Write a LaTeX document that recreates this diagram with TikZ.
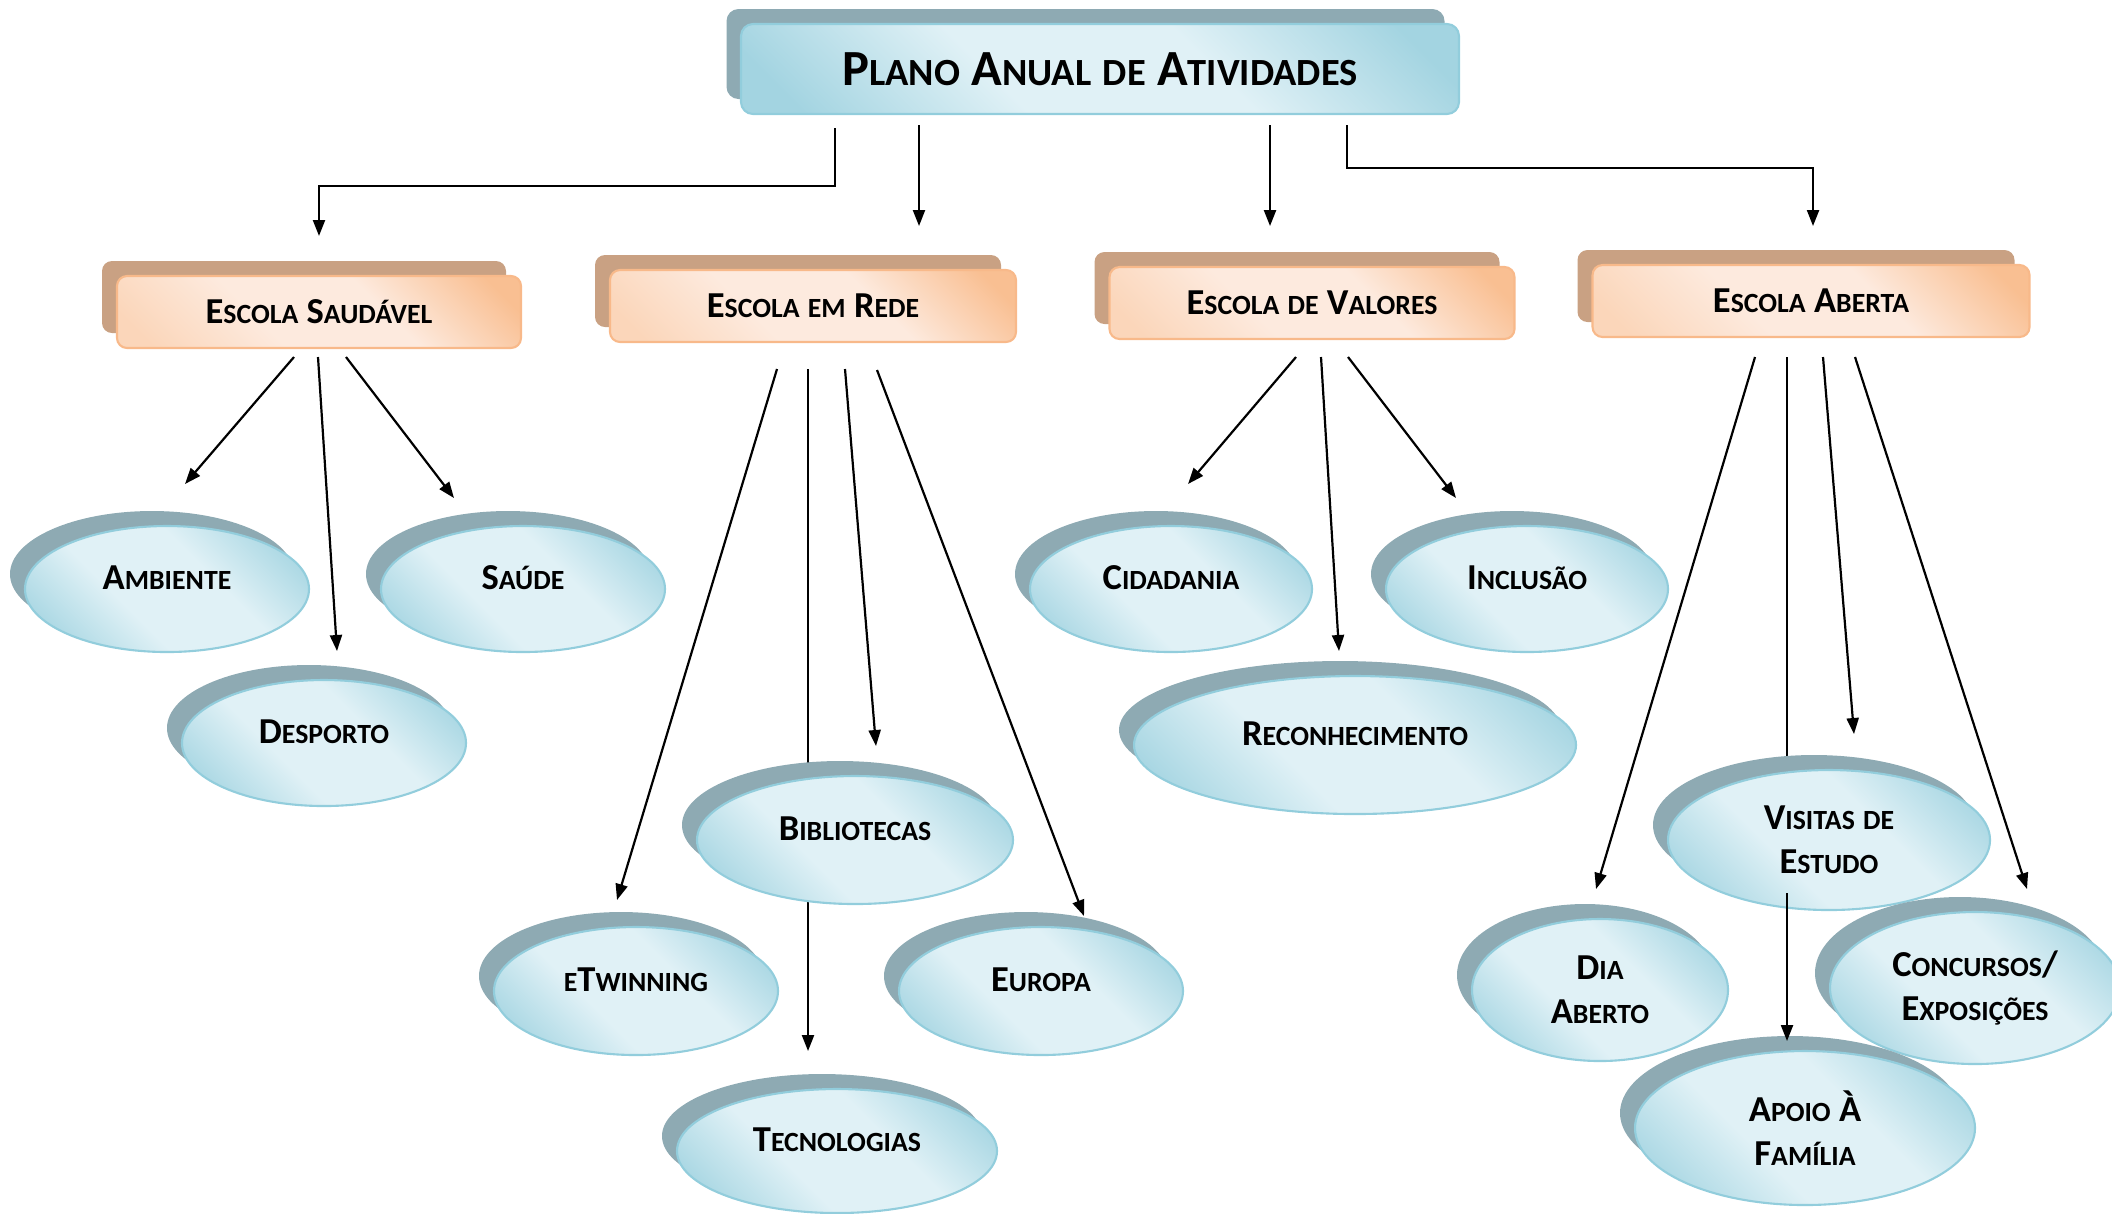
\documentclass[tikz,border=0pt]{standalone}
\usepackage{fontspec}
\setmainfont{Carlito}
\usetikzlibrary{shapes.geometric,shadows,arrows.meta}
\definecolor{ebd}{HTML}{92CDDC}
\definecolor{edark}{HTML}{A3D4E1}
\definecolor{elight}{HTML}{E0F1F6}
\definecolor{eshadow}{HTML}{8EAAB3}
\definecolor{obd}{HTML}{F8B98A}
\definecolor{odark}{HTML}{F9BF92}
\definecolor{omid}{HTML}{FBD6BA}
\definecolor{olight}{HTML}{FDEADE}
\definecolor{oshadow}{HTML}{C9A183}
\pgfdeclareverticalshading{bluegrad}{100bp}{color(0bp)=(edark); color(20bp)=(edark); color(40bp)=(elight); color(60bp)=(elight); color(80bp)=(edark); color(100bp)=(edark)}
\pgfdeclareverticalshading{orangegrad}{100bp}{color(0bp)=(omid); color(20bp)=(omid); color(40bp)=(olight); color(60bp)=(olight); color(80bp)=(odark); color(100bp)=(odark)}
\newcommand\lc[1]{\scalebox{0.76}{#1}}
\tikzset{
  blueshade/.style={shading=bluegrad, shading angle=-45},
  orangeshade/.style={shading=orangegrad, shading angle=-45},
  ell/.style={ellipse, draw=ebd, line width=0.6pt, blueshade, inner sep=0pt,
    general shadow={shadow xshift=-1.5mm, shadow yshift=1.5mm, fill=eshadow},
    font=\fontsize{10.4}{12.6}\selectfont\bfseries, align=center},
  one/.style={text height=2.3mm, text depth=2.2mm},
  catbox/.style={rectangle, rounded corners=1mm, draw=obd, line width=0.6pt, orangeshade,
    general shadow={shadow xshift=-1.5mm, shadow yshift=1.5mm, fill=oshadow},
    minimum height=7.2mm, inner sep=0pt, text height=2.3mm, text depth=0pt,
    font=\fontsize{10.4}{12.6}\selectfont\bfseries},
  titlebox/.style={rectangle, rounded corners=1.2mm, draw=ebd, line width=0.6pt, blueshade,
    general shadow={shadow xshift=-1.45mm, shadow yshift=1.5mm, fill=eshadow},
    minimum width=71.8mm, minimum height=9mm, inner sep=0pt, text height=3.2mm, text depth=0pt,
    font=\fontsize{14.4}{17}\selectfont\bfseries},
  arr/.style={-{Triangle[length=1.6mm,width=1.2mm]}, line width=0.22mm, black},
  ln/.style={line width=0.22mm, black}
}
\begin{document}
\begin{tikzpicture}[x=0.1mm,y=-0.1mm]
\path[use as bounding box] (0,0) rectangle (2112,1213);
% named end points
\coordinate (t1a) at (835,128); \coordinate (t1b) at (835,186); \coordinate (t1c) at (319,186); \coordinate (t1d) at (319,236);
\coordinate (t2a) at (919,125); \coordinate (t2b) at (919,226);
\coordinate (t3a) at (1270,125); \coordinate (t3b) at (1270,226);
\coordinate (t4a) at (1347,125); \coordinate (t4b) at (1347,168); \coordinate (t4c) at (1813,168); \coordinate (t4d) at (1813,226);
\coordinate (s1a) at (294,357); \coordinate (s1b) at (185,484);
\coordinate (s2a) at (318,357); \coordinate (s2b) at (337,651);
\coordinate (s3a) at (346,357); \coordinate (s3b) at (454,498);
\coordinate (r1a) at (777,369); \coordinate (r1b) at (617,900);
\coordinate (r2a) at (808,369); \coordinate (r2b) at (808,1051);
\coordinate (r3a) at (845,369); \coordinate (r3b) at (876,746);
\coordinate (r4a) at (877,370); \coordinate (r4b) at (1084,916);
\coordinate (v1a) at (1296,357); \coordinate (v1b) at (1188,484);
\coordinate (v2a) at (1321,357); \coordinate (v2b) at (1339,651);
\coordinate (v3a) at (1348,357); \coordinate (v3b) at (1456,498);
\coordinate (a1a) at (1755,357); \coordinate (a1b) at (1596,889);
\coordinate (a2a) at (1787,357); \coordinate (a2b) at (1787,850);
\coordinate (a2c) at (1787,893); \coordinate (a2d) at (1787,1041);
\coordinate (a3a) at (1823,357); \coordinate (a3b) at (1854,734);
\coordinate (a4a) at (1855,357); \coordinate (a4b) at (2027,889);
% connectors
\draw[arr] (t1a) -- (t1b) -- (t1c) -- (t1d);
\draw[arr] (t2a) -- (t2b);
\draw[arr] (t3a) -- (t3b);
\draw[arr] (t4a) -- (t4b) -- (t4c) -- (t4d);
\draw[arr] (s1a) -- (s1b);
\draw[arr] (s2a) -- (s2b);
\draw[arr] (s3a) -- (s3b);
\draw[arr] (r1a) -- (r1b);
\draw[arr] (r2a) -- (r2b);
\draw[arr] (r3a) -- (r3b);
\draw[arr] (r4a) -- (r4b);
\draw[arr] (v1a) -- (v1b);
\draw[arr] (v2a) -- (v2b);
\draw[arr] (v3a) -- (v3b);
\draw[arr] (a1a) -- (a1b);
\draw[ln] (a2a) -- (a2b);
\draw[arr] (a3a) -- (a3b);
\draw[arr] (a4a) -- (a4b);
% title
\node[titlebox] (title) at (1100,69) {P\lc{LANO} A\lc{NUAL} \lc{DE} A\lc{TIVIDADES}};
% category boxes
\node[catbox, minimum width=40.4mm] (saud) at (319,312) {E\lc{SCOLA} S\lc{AUDÁVEL}};
\node[catbox, minimum width=40.6mm] (rede) at (813,306) {E\lc{SCOLA} \lc{EM} R\lc{EDE}};
\node[catbox, minimum width=40.5mm] (valo) at (1312,303) {E\lc{SCOLA} \lc{DE} V\lc{ALORES}};
\node[catbox, minimum width=43.7mm] (aber) at (1811,301) {E\lc{SCOLA} A\lc{BERTA}};
% ellipses
\node[ell, one, minimum width=28.4mm, minimum height=12.6mm] (amb) at (167,589) {A\lc{MBIENTE}};
\node[ell, one, minimum width=28.4mm, minimum height=12.6mm] (des) at (324,743) {D\lc{ESPORTO}};
\node[ell, one, minimum width=28.4mm, minimum height=12.6mm] (sau) at (523,589) {S\lc{AÚDE}};
\node[ell, one, minimum width=31.6mm, minimum height=12.8mm] (bib) at (855,840) {B\lc{IBLIOTECAS}};
\node[ell, one, minimum width=28.4mm, minimum height=12.8mm] (etw) at (636,991) {\lc{E}T\lc{WINNING}};
\node[ell, one, minimum width=28.4mm, minimum height=12.8mm] (eur) at (1041,991) {E\lc{UROPA}};
\node[ell, one, minimum width=32mm, minimum height=12.4mm] (tec) at (837,1151) {T\lc{ECNOLOGIAS}};
\node[ell, one, minimum width=28.2mm, minimum height=12.6mm] (cid) at (1171,589) {C\lc{IDADANIA}};
\node[ell, one, minimum width=28.2mm, minimum height=12.6mm] (inc) at (1527,589) {I\lc{NCLUSÃO}};
\node[ell, one, minimum width=44.2mm, minimum height=13.8mm] (rec) at (1355,745) {R\lc{ECONHECIMENTO}};
\node[ell, minimum width=32.2mm, minimum height=14mm] (vis) at (1829,840) {V\lc{ISITAS} \lc{DE}\\E\lc{STUDO}};
\node[ell, minimum width=25.6mm, minimum height=14.2mm] (dia) at (1600,990) {D\lc{IA}\\A\lc{BERTO}};
\node[ell, minimum width=29mm, minimum height=15.2mm] (con) at (1975,988) {C\lc{ONCURSOS}/\\E\lc{XPOSIÇÕES}};
\node[ell, minimum width=34mm, minimum height=15.4mm] (apo) at (1805,1128) {A\lc{POIO} À\\F\lc{AMÍLIA}};
% connector drawn over Visitas
\draw[arr] (a2c) -- (a2d);
\end{tikzpicture}
\end{document}
